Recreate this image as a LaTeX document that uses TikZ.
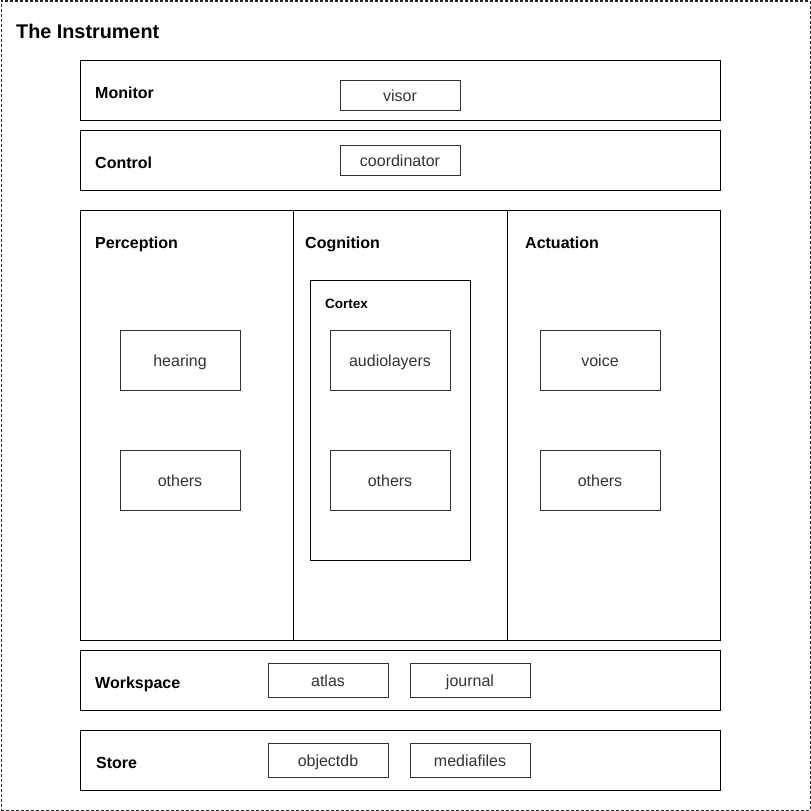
\documentclass[tikz,border=0pt]{standalone}
\usepackage{fontspec}
\setmainfont{Liberation Sans}
\begin{document}
\begin{tikzpicture}[x=1pt,y=-1pt,
  frame/.style={draw=black,line width=1pt,rectangle,inner sep=0pt},
  item/.style={draw=black!80,line width=1pt,rectangle,inner sep=0pt,minimum width=120pt,minimum height=#1,text=black!80,text height=12.5pt,text depth=0pt,font=\fontsize{16}{18}\selectfont},
  item/.default=30pt,
  lbl/.style={anchor=base west,inner sep=0pt,font=\bfseries\fontsize{16}{18}\selectfont},
]
\useasboundingbox (0,0) rectangle (811,811);
\node[draw=black!85,line width=1pt,dash pattern=on 3pt off 2pt,inner sep=0pt,minimum width=809pt,minimum height=809pt] (outer) at (405.5,405.5) {};
\node[anchor=base west,inner sep=0pt,font=\bfseries\fontsize{19.8}{22}\selectfont] (title) at (16,38) {The Instrument};

% Monitor
\node[frame,minimum width=640pt,minimum height=60pt] (monitor) at (400,90) {};
\node[lbl] (monitorlbl) at (95,98) {Monitor};
\node[item] (visor) at (400,95) {visor};

% Control
\node[frame,minimum width=640pt,minimum height=60pt] (control) at (400,160) {};
\node[lbl] (controllbl) at (95,168) {Control};
\node[item] (coord) at (400,160) {coordinator};

% Columns
\node[frame,minimum width=213pt,minimum height=430pt] (perc) at (186.5,425) {};
\node[frame,minimum width=214pt,minimum height=430pt] (cogn) at (400,425) {};
\node[frame,minimum width=213pt,minimum height=430pt] (actu) at (613.5,425) {};
\node[lbl] (perclbl) at (95,248) {Perception};
\node[lbl] (cognlbl) at (305,248) {Cognition};
\node[lbl] (actulbl) at (525,248) {Actuation};

\node[item=60pt] (hearing) at (180,360) {hearing};
\node[item=60pt] (pothers) at (180,480) {others};

\node[frame,minimum width=160pt,minimum height=280pt] (cortex) at (390,420) {};
\node[anchor=base west,inner sep=0pt,font=\bfseries\fontsize{13.5}{16}\selectfont] (cortexlbl) at (325,308) {Cortex};
\node[item=60pt] (audio) at (390,360) {audiolayers};
\node[item=60pt] (cothers) at (390,480) {others};

\node[item=60pt] (voice) at (600,360) {voice};
\node[item=60pt] (aothers) at (600,480) {others};

% Workspace
\node[frame,minimum width=640pt,minimum height=60pt] (workspace) at (400,680) {};
\node[lbl] (workspacelbl) at (95,688) {Workspace};
\node[item=34pt] (atlas) at (328,680) {atlas};
\node[item=34pt] (journal) at (470,680) {journal};

% Store
\node[frame,minimum width=640pt,minimum height=60pt] (store) at (400,760) {};
\node[lbl] (storelbl) at (96,768) {Store};
\node[item=34pt] (objectdb) at (328,760) {objectdb};
\node[item=34pt] (media) at (470,760) {mediafiles};
\end{tikzpicture}
\end{document}
